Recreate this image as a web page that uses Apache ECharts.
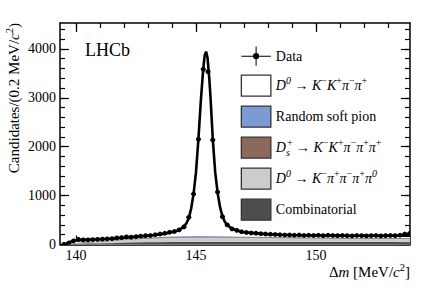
<!DOCTYPE html>
<html><head><meta charset="utf-8">
<script src="https://cdn.jsdelivr.net/npm/echarts@6/dist/echarts.min.js"></script>
<style>html,body{margin:0;padding:0;background:#fff}#c{width:432px;height:292px}</style>
</head><body><div id="c"></div>
<script>
// ---- data ----
const binCenters = [139.5,139.7,139.9,140.1,140.3,140.5,140.7,140.9,141.1,141.3,141.5,141.7,141.9,142.1,142.3,142.5,142.7,142.9,143.1,143.3,143.5,143.7,143.9,144.1,144.3,144.5,144.7,144.9,145.1,145.3,145.5,145.7,145.9,146.1,146.3,146.5,146.7,146.9,147.1,147.3,147.5,147.7,147.9,148.1,148.3,148.5,148.7,148.9,149.1,149.3,149.5,149.7,149.9,150.1,150.3,150.5,150.7,150.9,151.1,151.3,151.5,151.7,151.9,152.1,152.3,152.5,152.7,152.9,153.1,153.3,153.5,153.7,153.9];
const counts = [5,30,75,105,95,95,100,105,110,115,120,135,140,155,150,160,170,180,185,200,215,230,250,265,300,360,556,1033,2151,3583,3534,2137,1074,569,400,320,290,260,245,235,230,220,215,210,205,200,195,195,190,195,185,190,185,190,180,190,185,180,185,180,175,185,180,175,180,185,175,180,185,180,190,215,225];

const fitX = [139.57,139.65,139.8,140.0,140.3,140.7,141.0,141.5,142.0,142.5,143.0,143.5,143.9,144.2,144.4,144.6,144.7,144.8,144.9,145.0,145.1,145.2,145.3,145.36,145.42,145.48,145.55,145.6,145.7,145.8,145.9,146.0,146.1,146.2,146.3,146.5,146.7,147.0,147.5,148.0,148.5,149.0,150.0,151.0,152.0,153.0,153.92];
const fitY = [0,30,60,82,92,100,106,118,138,158,178,205,240,280,330,430,545,740,1040,1480,2150,2930,3580,3860,3945,3820,3420,3050,2150,1480,1060,770,580,465,400,320,285,252,228,210,200,193,186,182,180,180,182];

const bgX = [139.57,140,140.5,141,141.5,142,142.5,143,143.5,144,145,146,147,148,149,150,151,152,153,153.92];
const combinatorial = [0,12,18,22,28,35,40,45,48,50,52,52,52,52,51,50,50,49,49,48];
const kpipipipi0 = [0,15,25,32,42,55,65,75,82,88,92,90,85,80,76,72,70,68,66,65];
const dsBkg = [0,2,3,4,5,6,7,8,8,9,9,9,9,9,9,9,9,9,9,9];
const randomPion = [0,1,3,3,4,6,8,12,15,18,20,18,15,12,10,8,8,8,8,8];

const xMajorTicks = [140,145,150];
const xMinorTicks = [140,141,142,143,144,145,146,147,148,149,150,151,152,153];
const yMajorTicks = [0,1000,2000,3000,4000];
const yMinorTicks = [200,400,600,800,1000,1200,1400,1600,1800,2000,2200,2400,2600,2800,3000,3200,3400,3600,3800,4000,4200,4400];

const xMin = 139.333, xMax = 153.917, yMin = 0, yMax = 4530;
const binHalf = 0.1;

// ---- style ----
const SERIF = 'Liberation Serif';
const richStyles = {
  r: {fontFamily: SERIF, fontSize: 14, lineHeight: 20, color: '#000'},
  i: {fontFamily: SERIF, fontSize: 14, fontStyle: 'italic', lineHeight: 20, color: '#000'},
  sup: {fontFamily: SERIF, fontSize: 10, lineHeight: 11, verticalAlign: 'top', color: '#000'},
  supi: {fontFamily: SERIF, fontSize: 10, fontStyle: 'italic', lineHeight: 11, verticalAlign: 'top', color: '#000'},
  sub: {fontFamily: SERIF, fontSize: 10, fontStyle: 'italic', lineHeight: 11, verticalAlign: 'bottom', color: '#000', width: 1},
};
const labels = {
  data: '{r|Data}',
  sig: '{i|D}{supi|0}{r| → }{i|K}{sup|−}{i|K}{sup|+}{i|π}{sup|−}{i|π}{sup|+}',
  rsp: '{r|Random soft pion}',
  ds: '{i|D}{sub|s}{sup|+}{r| → }{i|K}{sup|−}{i|K}{sup|+}{i|π}{sup|−}{i|π}{sup|+}{i|π}{sup|+}',
  pi0: '{i|D}{supi|0}{r| → }{i|K}{sup|−}{i|π}{sup|+}{i|π}{sup|−}{i|π}{sup|+}{i|π}{supi|0}',
  comb: '{r|Combinatorial}'
};
const C = {rsp: '#7b9bd2', ds: '#8b6a5c', pi0: '#cccccc', comb: '#4d4d4d'};

function pairs(xs, ys) { return xs.map((x, k) => [x, ys[k]]); }
// cumulative stack tops (bottom → top order)
const stackOrder = [combinatorial, kpipipipi0, dsBkg, randomPion];
const stackTops = [];
stackOrder.forEach((arr, k) => {
  stackTops.push(arr.map((v, j) => v + (k > 0 ? stackTops[k - 1][j] : 0)));
});

function xAxisCfg(pos, ticks, len, showLine, showLabel) {
  return {
    type: 'value', position: pos, min: xMin, max: xMax,
    axisLine: {show: showLine, onZero: false, lineStyle: {color: '#000', width: 1.5}},
    axisTick: {show: true, inside: true, length: len, customValues: ticks, lineStyle: {color: '#000', width: 1.2}},
    axisLabel: {show: showLabel, customValues: ticks, formatter: v => String(v), fontFamily: SERIF, fontSize: 14, color: '#000', margin: 4},
    splitLine: {show: false}
  };
}
function yAxisCfg(pos, ticks, len, showLine, showLabel) {
  return {
    type: 'value', position: pos, min: yMin, max: yMax,
    axisLine: {show: showLine, onZero: false, lineStyle: {color: '#000', width: 1.5}},
    axisTick: {show: true, inside: true, length: len, customValues: ticks, lineStyle: {color: '#000', width: 1.2}},
    axisLabel: {show: showLabel, customValues: ticks, formatter: v => String(v), fontFamily: SERIF, fontSize: 14, color: '#000', margin: 4},
    splitLine: {show: false}
  };
}

function bgSeries(name, values, color, z) {
  return {
    name: name, type: 'line', data: pairs(bgX, values),
    showSymbol: false, symbol: 'none', z: z,
    lineStyle: {width: 0}, areaStyle: {color: color, opacity: 1, origin: 'start'},
    itemStyle: {color: color}, silent: true
  };
}

// legend icon for data: bars (not overlapping) + filled dot
const dataIcon = 'path://M0,10 L11.5,10 L11.5,11 L0,11 Z M17.5,10 L29,10 L29,11 L17.5,11 Z M14,1 L15,1 L15,7.5 L14,7.5 Z M14,13.5 L15,13.5 L15,20 L14,20 Z M11.5,10.5 A3,3 0 1,1 17.5,10.5 A3,3 0 1,1 11.5,10.5 Z';
const legendBorder = {borderColor: '#333', borderWidth: 1.3};

const chart = echarts.init(document.getElementById('c'), null, {renderer: 'svg'});
chart.setOption({
  animation: false,
  backgroundColor: '#fff',
  grid: {left: 60, right: 22, top: 23, bottom: 47.5, containLabel: false},
  xAxis: [
    xAxisCfg('bottom', xMajorTicks, 9, true, true),
    xAxisCfg('bottom', xMinorTicks, 5, false, false),
    xAxisCfg('top', xMajorTicks, 9, true, false),
    xAxisCfg('top', xMinorTicks, 5, false, false)
  ],
  yAxis: [
    yAxisCfg('left', yMajorTicks, 9, true, true),
    yAxisCfg('left', yMinorTicks, 5, false, false),
    yAxisCfg('right', yMajorTicks, 9, true, false),
    yAxisCfg('right', yMinorTicks, 5, false, false)
  ],
  legend: {
    orient: 'vertical', left: 240.7, top: 46.5, padding: 0,
    itemWidth: 29.5, itemHeight: 21, itemGap: 8.7,
    selectedMode: false,
    formatter: name => labels[name],
    textStyle: {fontFamily: SERIF, fontSize: 14, color: '#000', rich: richStyles},
    data: [
      {name: 'data', icon: dataIcon, itemStyle: {color: '#000', borderWidth: 0}},
      {name: 'sig', icon: 'rect', itemStyle: Object.assign({color: '#fff'}, legendBorder)},
      {name: 'rsp', icon: 'rect', itemStyle: Object.assign({color: C.rsp}, legendBorder)},
      {name: 'ds', icon: 'rect', itemStyle: Object.assign({color: C.ds}, legendBorder)},
      {name: 'pi0', icon: 'rect', itemStyle: Object.assign({color: C.pi0}, legendBorder)},
      {name: 'comb', icon: 'rect', itemStyle: Object.assign({color: C.comb}, legendBorder)}
    ]
  },
  series: [
    {
      name: 'sig', type: 'line', data: pairs(fitX, fitY), showSymbol: false, symbol: 'none', z: 1,
      lineStyle: {width: 0}, areaStyle: {color: '#fff', opacity: 1, origin: 'start'}, itemStyle: {color: '#fff'}, silent: true
    },
    bgSeries('rsp', stackTops[3], C.rsp, 2),
    bgSeries('ds', stackTops[2], C.ds, 3),
    bgSeries('pi0', stackTops[1], C.pi0, 4),
    bgSeries('comb', stackTops[0], C.comb, 5),
    {
      name: 'fit', type: 'line', data: pairs(fitX, fitY), showSymbol: false, symbol: 'none', z: 6,
      lineStyle: {color: '#000', width: 2.6}, itemStyle: {color: '#000'}, silent: true
    },
    {
      name: 'data', type: 'custom', z: 7, clip: true, silent: true,
      itemStyle: {color: '#000'},
      data: pairs(binCenters, counts),
      renderItem: function (params, api) {
        const x = api.value(0), y = api.value(1);
        const p = api.coord([x, y]);
        const pl = api.coord([x - binHalf, y]);
        const pr = api.coord([x + binHalf, y]);
        return {
          type: 'group',
          children: [
            {type: 'line', shape: {x1: pl[0], y1: pl[1], x2: pr[0], y2: pr[1]}, style: {stroke: '#000', lineWidth: 1.4}},
            {type: 'circle', shape: {cx: p[0], cy: p[1], r: 2.4}, style: {fill: '#000'}}
          ]
        };
      }
    }
  ],
  graphic: [
    {type: 'text', x: 85, y: 50, style: {text: 'LHCb', fontFamily: SERIF, fontSize: 18, fill: '#000', align: 'left', verticalAlign: 'middle'}},
    {type: 'text', x: 14, y: 23, rotation: Math.PI / 2,
     style: {text: '{t|Candidates/(0.2 MeV/}{ti|c}{ts|2}{t|)}', align: 'right', verticalAlign: 'middle',
       rich: {
         t: {fontFamily: SERIF, fontSize: 15, lineHeight: 21, fill: '#000'},
         ti: {fontFamily: SERIF, fontSize: 15, fontStyle: 'italic', lineHeight: 21, fill: '#000'},
         ts: {fontFamily: SERIF, fontSize: 10.5, lineHeight: 12, verticalAlign: 'top', fill: '#000'}
       }}},
    {type: 'text', x: 410, y: 272,
     style: {text: '{t|Δ}{ti|m}{t| [MeV/}{ti|c}{ts|2}{t|]}', align: 'right', verticalAlign: 'middle',
       rich: {
         t: {fontFamily: SERIF, fontSize: 15, lineHeight: 21, fill: '#000'},
         ti: {fontFamily: SERIF, fontSize: 15, fontStyle: 'italic', lineHeight: 21, fill: '#000'},
         ts: {fontFamily: SERIF, fontSize: 10.5, lineHeight: 12, verticalAlign: 'top', fill: '#000'}
       }}}
  ]
});
</script></body></html>
